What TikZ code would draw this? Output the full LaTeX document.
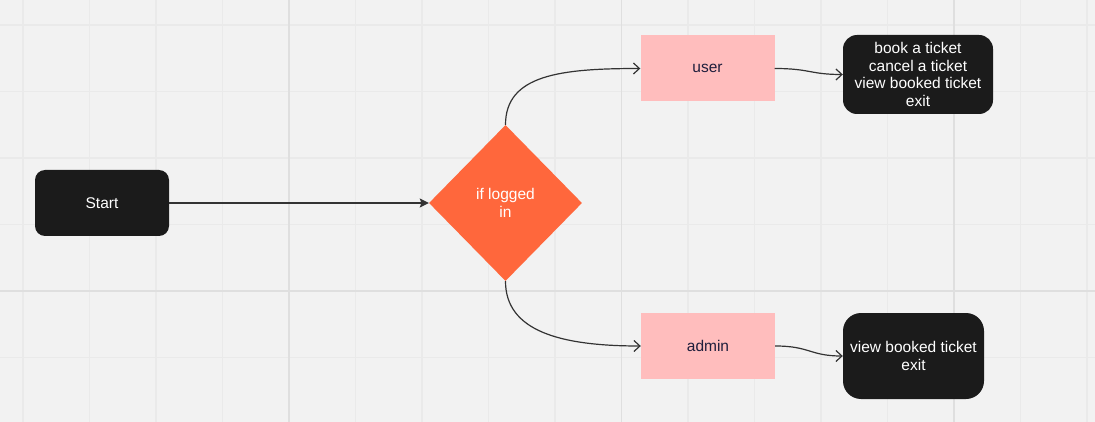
\documentclass[tikz,border=0pt]{standalone}
\usepackage{fontspec}
\setmainfont{Liberation Sans}
\usetikzlibrary{shapes.geometric,arrows.meta}
\definecolor{bg}{HTML}{F2F2F2}
\definecolor{gridminor}{HTML}{EAEAEA}
\definecolor{gridmajor}{HTML}{DFDFDF}
\definecolor{darkbox}{HTML}{1B1B1B}
\definecolor{orangeD}{HTML}{FF673C}
\definecolor{pinkbox}{HTML}{FFBDBD}
\definecolor{navytext}{HTML}{1E1E3C}
\definecolor{linec}{HTML}{333333}
\begin{document}
\begin{tikzpicture}[x=1pt,y=-1pt,
  txt/.style={font=\fontsize{15.5}{17.7}\selectfont, align=center, inner sep=0pt},
  darknode/.style={txt, fill=darkbox, text=white},
  pinknode/.style={txt, fill=pinkbox, text=navytext, minimum width=134pt, minimum height=66pt},
  decision/.style={txt, diamond, fill=orangeD, text=white, minimum width=153pt, minimum height=156pt},
  minorgrid/.style={draw=gridminor, line width=1.3pt},
  majorgrid/.style={draw=gridmajor, line width=1.8pt},
  conn/.style={draw=linec, line width=1.2pt},
  openarrow/.style={conn, -{Straight Barb[length=6pt,width=11pt]}},
  solidarrow/.style={conn, -{Stealth[length=9pt,width=9pt,inset=1.5pt]}}
]
\fill[bg] (0,0) rectangle (1095,422);
\useasboundingbox (0,0) rectangle (1095,422);
% grid
\foreach \k in {0,...,16} {
  \draw[minorgrid] ({23+66.5*\k},0) -- ({23+66.5*\k},422);
}
\foreach \k in {-4,...,2} {
  \draw[minorgrid] (0,{291+66.5*\k}) -- (1095,{291+66.5*\k});
}
\foreach \xx in {289,621.5,954} {
  \draw[majorgrid] (\xx,0) -- (\xx,422);
}
\draw[majorgrid] (0,291) -- (1095,291);

% nodes
\node[darknode, rounded corners=10pt, minimum width=134pt, minimum height=66pt] (start) at (102,203) {Start};
\node[decision] (dec) at (505.5,203) {if logged\\in};
\node[pinknode] (user) at (707.5,68.5) {user};
\node[pinknode] (admin) at (708,346) {admin};
\node[darknode, rounded corners=14pt, minimum width=150pt, minimum height=79pt] (ubox) at (918,74.5) {book a ticket\\cancel a ticket\\view booked ticket\\exit};
\node[darknode, rounded corners=18pt, minimum width=141pt, minimum height=86pt] (abox) at (913.5,356) {view booked ticket\\exit};

% connectors
\draw[solidarrow] (start.east) -- (dec.west);
\draw[openarrow] (dec.north) .. controls (505.5,75) and (560,68.5) .. (user.west);
\draw[openarrow] (dec.south) .. controls (505.5,331) and (560,346) .. (admin.west);
\draw[openarrow] (user.east) .. controls (810,68.5) and (810,74.5) .. (ubox.west);
\draw[openarrow] (admin.east) .. controls (810,346) and (810,356) .. (abox.west);
\end{tikzpicture}
\end{document}
